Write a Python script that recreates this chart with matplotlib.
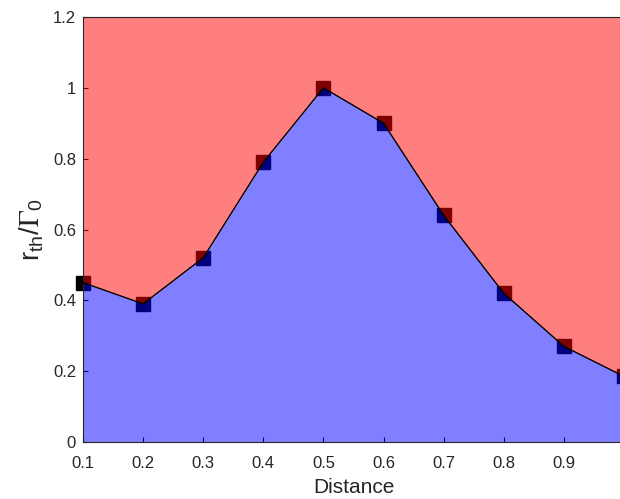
import numpy as np
import matplotlib
matplotlib.use("Agg")
import matplotlib.pyplot as plt

plt.rcParams['font.family'] = ['Liberation Sans', 'DejaVu Sans']
plt.rcParams['mathtext.fontset'] = 'stix'

# threshold ratio vs distance
distance = [0.1, 0.2, 0.3, 0.4, 0.5, 0.6, 0.7, 0.8, 0.9, 1.0]
ratio = [0.45, 0.39, 0.52, 0.79, 1.0, 0.90, 0.64, 0.42, 0.27, 0.185]

xticks = [0.1, 0.2, 0.3, 0.4, 0.5, 0.6, 0.7, 0.8, 0.9]
xtick_labels = ['0.1', '0.2', '0.3', '0.4', '0.5', '0.6', '0.7', '0.8', '0.9']
yticks = [0, 0.2, 0.4, 0.6, 0.8, 1.0, 1.2]
ytick_labels = ['0', '0.2', '0.4', '0.6', '0.8', '1', '1.2']

fig = plt.figure(figsize=(6.2, 4.99), dpi=100)
ax = fig.add_axes([83 / 620, 57 / 499, 541 / 620, 425 / 499])
ax.set_axisbelow(True)

x = np.array(distance)
y = np.array(ratio)

# markers sit under the translucent regions
ax.plot(x, y, 's', color='black', ms=10, zorder=0.8, clip_on=False)

ax.fill_between(x, 0, y, color=(0, 0, 1), alpha=0.5, lw=0, zorder=1)
ax.fill_between(x, y, 1.2, color=(1, 0, 0), alpha=0.5, lw=0, zorder=1)
ax.plot(x, y, '-', color='black', lw=1, zorder=3)

ax.set_xlim(0.1, 1.0)
ax.set_ylim(0, 1.2)
ax.set_xticks(xticks)
ax.set_xticklabels(xtick_labels)
ax.set_yticks(yticks)
ax.set_yticklabels(ytick_labels)
ax.tick_params(direction='in', length=3.6, width=0.8, labelsize=12,
               labelcolor='#262626', color='black')
ax.tick_params(axis='x', pad=10)
ax.tick_params(axis='y', pad=5)

for side in ['left', 'bottom', 'top']:
    ax.spines[side].set_linewidth(0.8)
    ax.spines[side].set_color('#262626')
ax.spines['right'].set_visible(False)

ax.set_xlabel('Distance', fontsize=15, color='#262626', labelpad=5)
ax.set_ylabel(r'$\mathregular{r_{th}/}\Gamma_{\mathregular{0}}$', fontsize=20,
              color='#262626', labelpad=5)

fig.savefig('out.png', dpi=100)
